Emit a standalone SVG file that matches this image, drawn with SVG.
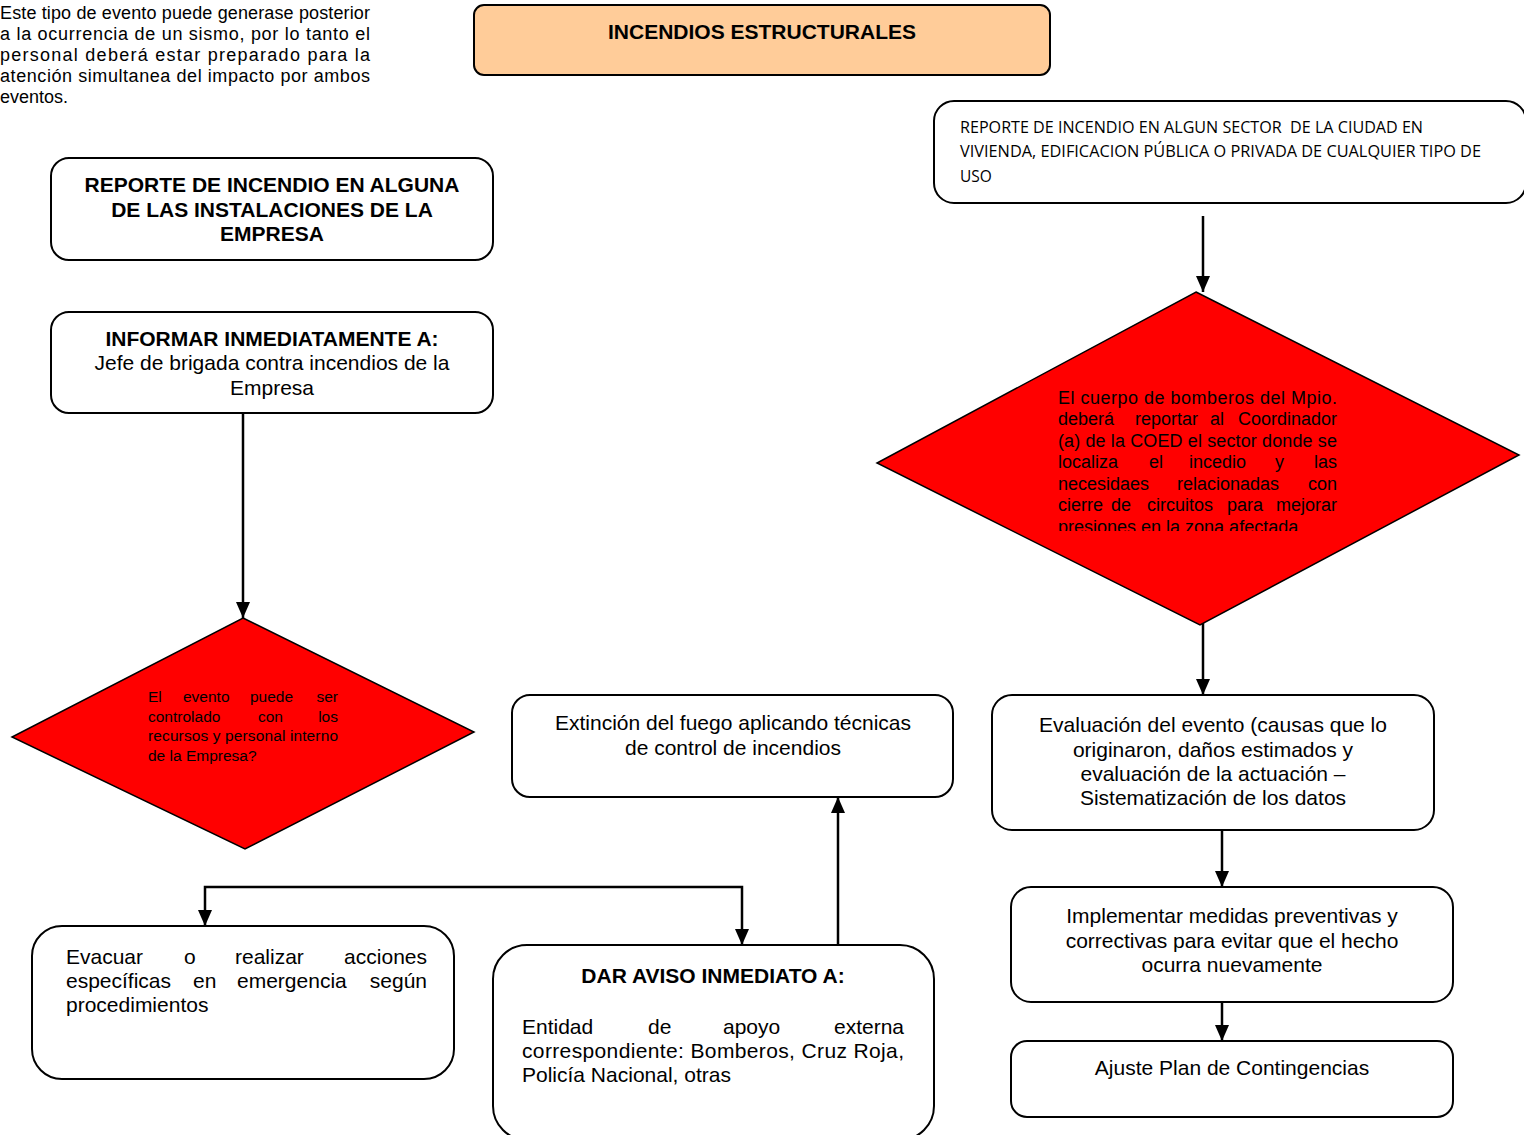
<svg xmlns="http://www.w3.org/2000/svg" width="1524" height="1135" viewBox="0 0 1524 1135">
  <style>
    .box { fill: #ffffff; stroke: #000000; stroke-width: 2; }
    .title-box { fill: #ffcc99; stroke: #000000; stroke-width: 2; }
    .dia { fill: #ff0000; stroke: #000000; stroke-width: 1.5; }
    .t { font-family: "Liberation Sans", Arial, sans-serif; fill: #000000; }
    .b { font-weight: bold; }
    .c { text-anchor: middle; }
    .e { text-anchor: end; }
    .cal { font-family: "Open Sans", "Noto Sans", sans-serif; fill: #000000; font-size: 15.5px; }
    .conn { stroke: #000000; stroke-width: 2.5; fill: none; }
  </style>
  <defs>
    <marker id="arrow" markerUnits="userSpaceOnUse" markerWidth="16" markerHeight="16" viewBox="0 0 16 16" refX="16" refY="8" orient="auto-start-reverse">
      <path d="M0,1 L16,8 L0,15 z" fill="#000000"/>
    </marker>
    <clipPath id="diaTextClip">
      <rect x="1040" y="380" width="320" height="151"/>
    </clipPath>
  </defs>

  <rect width="1524" height="1135" fill="#ffffff"/>

  <!-- side note -->
  <g id="note" class="t" font-size="18">
    <text x="0" y="19" textLength="370" lengthAdjust="spacing">Este tipo de evento puede generase posterior</text>
    <text x="0" y="40" textLength="370" lengthAdjust="spacing">a la ocurrencia de un sismo, por lo tanto el</text>
    <text x="0" y="61" textLength="370" lengthAdjust="spacing">personal deberá estar preparado para la</text>
    <text x="0" y="82" textLength="370" lengthAdjust="spacing">atención simultanea del impacto por ambos</text>
    <text x="0" y="103">eventos.</text>
  </g>

  <!-- connectors -->
  <g id="connectors">
    <path class="conn" d="M243 413 V618" marker-end="url(#arrow)"/>
    <path class="conn" d="M1203 216 V292" marker-end="url(#arrow)"/>
    <path class="conn" d="M1203 622 V695" marker-end="url(#arrow)"/>
    <path class="conn" d="M1222 830 V887" marker-end="url(#arrow)"/>
    <path class="conn" d="M1222 1002 V1041" marker-end="url(#arrow)"/>
    <path class="conn" d="M205 926 V887 H742 V945" marker-start="url(#arrow)" marker-end="url(#arrow)"/>
    <path class="conn" d="M838 945 V797" marker-end="url(#arrow)"/>
  </g>

  <g id="title">
    <rect class="title-box" x="474" y="5" width="576" height="70" rx="10"/>
    <text class="t b c" x="762" y="39" font-size="21">INCENDIOS ESTRUCTURALES</text>
  </g>

  <g id="reporte-ciudad">
    <rect class="box" x="934" y="101" width="592" height="102" rx="20"/>
    <text class="cal" x="960" y="133" textLength="463" lengthAdjust="spacingAndGlyphs">REPORTE DE INCENDIO EN ALGUN SECTOR &#160;DE LA CIUDAD EN</text>
    <text class="cal" x="960" y="157" textLength="521" lengthAdjust="spacingAndGlyphs">VIVIENDA, EDIFICACION PÚBLICA O PRIVADA DE CUALQUIER TIPO DE</text>
    <text class="cal" x="960" y="182">USO</text>
  </g>

  <g id="reporte-empresa">
    <rect class="box" x="51" y="158" width="442" height="102" rx="18"/>
    <text class="t b c" x="272" y="192" font-size="21">REPORTE DE INCENDIO EN ALGUNA</text>
    <text class="t b c" x="272" y="217" font-size="21">DE LAS INSTALACIONES DE LA</text>
    <text class="t b c" x="272" y="241" font-size="21">EMPRESA</text>
  </g>

  <g id="informar">
    <rect class="box" x="51" y="312" width="442" height="101" rx="18"/>
    <text class="t b c" x="272" y="346" font-size="21">INFORMAR INMEDIATAMENTE A:</text>
    <text class="t c" x="272" y="370" font-size="21">Jefe de brigada contra incendios de la</text>
    <text class="t c" x="272" y="395" font-size="21">Empresa</text>
  </g>

  <g id="decision-bomberos">
    <polygon class="dia" points="1196,292 1519,455 1200,625 877,463"/>
    <g class="t" font-size="18" clip-path="url(#diaTextClip)">
      <text x="1058" y="404" textLength="279" lengthAdjust="spacing">El cuerpo de bomberos del Mpio.</text>
      <text y="425"><tspan x="1058">deberá</tspan><tspan x="1135">reportar</tspan><tspan x="1210">al</tspan><tspan x="1337" text-anchor="end">Coordinador</tspan></text>
      <text x="1058" y="447" textLength="279" lengthAdjust="spacing">(a) de la COED el sector donde se</text>
      <text y="468"><tspan x="1058">localiza</tspan><tspan x="1149">el</tspan><tspan x="1189">incedio</tspan><tspan x="1275">y</tspan><tspan x="1337" text-anchor="end">las</tspan></text>
      <text y="490"><tspan x="1058">necesidaes</tspan><tspan x="1177">relacionadas</tspan><tspan x="1337" text-anchor="end">con</tspan></text>
      <text y="511"><tspan x="1058">cierre</tspan><tspan x="1111">de</tspan><tspan x="1147">circuitos</tspan><tspan x="1227">para</tspan><tspan x="1337" text-anchor="end">mejorar</tspan></text>
      <text x="1058" y="533">presiones en la zona afectada.</text>
    </g>
  </g>

  <g id="decision-empresa">
    <polygon class="dia" points="243,618 474,732 245,849 12,737"/>
    <g class="t" font-size="15.5">
      <text y="702"><tspan x="148">El</tspan><tspan x="183">evento</tspan><tspan x="250">puede</tspan><tspan x="338" text-anchor="end">ser</tspan></text>
      <text y="722"><tspan x="148">controlado</tspan><tspan x="258">con</tspan><tspan x="338" text-anchor="end">los</tspan></text>
      <text x="148" y="741" textLength="190" lengthAdjust="spacing">recursos y personal interno</text>
      <text x="148" y="761">de la Empresa?</text>
    </g>
  </g>

  <g id="extincion">
    <rect class="box" x="512" y="695" width="441" height="102" rx="18"/>
    <text class="t c" x="733" y="730" font-size="21">Extinción del fuego aplicando técnicas</text>
    <text class="t c" x="733" y="755" font-size="21">de control de incendios</text>
  </g>

  <g id="evaluacion">
    <rect class="box" x="992" y="695" width="442" height="135" rx="20"/>
    <text class="t c" x="1213" y="732" font-size="21">Evaluación del evento (causas que lo</text>
    <text class="t c" x="1213" y="757" font-size="21">originaron, daños estimados y</text>
    <text class="t c" x="1213" y="781" font-size="21">evaluación de la actuación –</text>
    <text class="t c" x="1213" y="805" font-size="21">Sistematización de los datos</text>
  </g>

  <g id="implementar">
    <rect class="box" x="1011" y="887" width="442" height="115" rx="20"/>
    <text class="t c" x="1232" y="923" font-size="21">Implementar medidas preventivas y</text>
    <text class="t c" x="1232" y="948" font-size="21">correctivas para evitar que el hecho</text>
    <text class="t c" x="1232" y="972" font-size="21">ocurra nuevamente</text>
  </g>

  <g id="ajuste">
    <rect class="box" x="1011" y="1041" width="442" height="76" rx="16"/>
    <text class="t c" x="1232" y="1075" font-size="21">Ajuste Plan de Contingencias</text>
  </g>

  <g id="evacuar">
    <rect class="box" x="32" y="926" width="422" height="153" rx="30"/>
    <g class="t" font-size="21">
      <text y="964"><tspan x="66">Evacuar</tspan><tspan x="184">o</tspan><tspan x="235">realizar</tspan><tspan x="427" text-anchor="end">acciones</tspan></text>
      <text y="988"><tspan x="66">específicas</tspan><tspan x="193">en</tspan><tspan x="237">emergencia</tspan><tspan x="427" text-anchor="end">según</tspan></text>
      <text x="66" y="1012">procedimientos</text>
    </g>
  </g>

  <g id="dar-aviso">
    <rect class="box" x="493" y="945" width="441" height="195" rx="34"/>
    <text class="t b c" x="713" y="983" font-size="21">DAR AVISO INMEDIATO A:</text>
    <g class="t" font-size="21">
      <text y="1034"><tspan x="522">Entidad</tspan><tspan x="648">de</tspan><tspan x="723">apoyo</tspan><tspan x="904" text-anchor="end">externa</tspan></text>
      <text x="522" y="1058" textLength="382" lengthAdjust="spacing">correspondiente: Bomberos, Cruz Roja,</text>
      <text x="522" y="1082">Policía Nacional, otras</text>
    </g>
  </g>
</svg>
